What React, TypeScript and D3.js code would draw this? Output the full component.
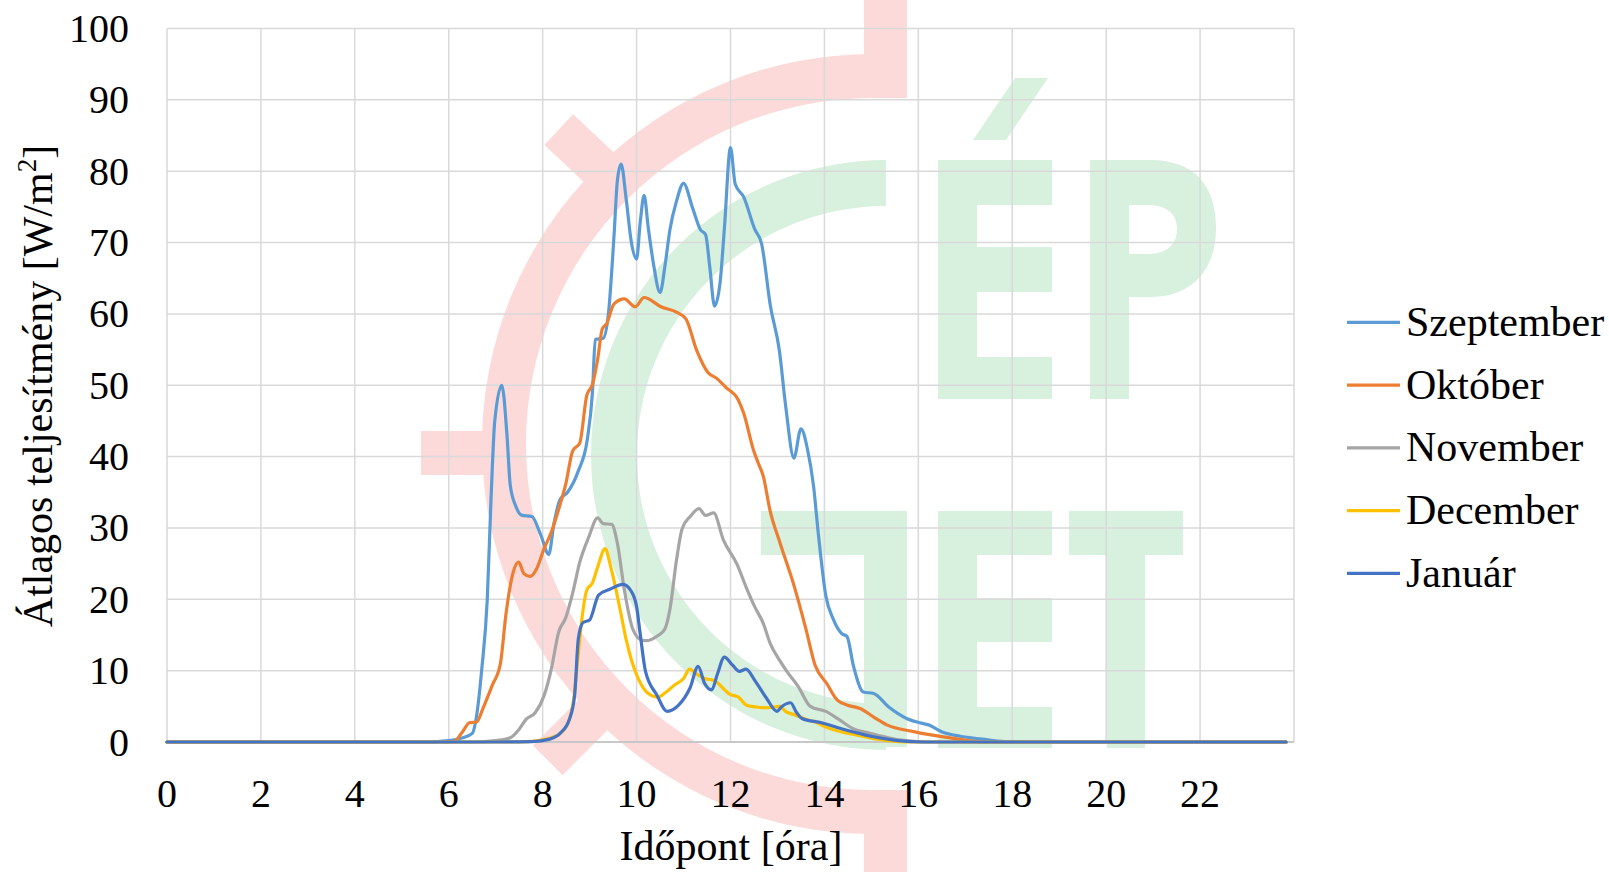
import React from 'react';
import * as d3 from 'd3';

const W = 1609;
const H = 872;
const X0 = 167;
const X1 = 1294;
const Y0 = 742;
const Y1 = 28.5;

const xTickLabels = [0, 2, 4, 6, 8, 10, 12, 14, 16, 18, 20, 22];
const xGridHours = [0, 2, 4, 6, 8, 10, 12, 14, 16, 18, 20, 22, 24];
const yTickLabels = [0, 10, 20, 30, 40, 50, 60, 70, 80, 90, 100];

const seriesNames = ['Szeptember', 'Október', 'November', 'December', 'Január'];
const seriesColors = ['#5B9BD5', '#ED7D31', '#A5A5A5', '#FFC000', '#4472C4'];

// [hour, W/m2]
const szeptember: [number, number][] = [
  [0, 0], [5.5, 0], [6.0, 0.2], [6.3, 0.6], [6.5, 1.2], [6.6, 4], [6.7, 10], [6.82, 20], [6.9, 34], [6.98, 45],
  [7.13, 50], [7.24, 43], [7.31, 36], [7.43, 33], [7.55, 31.8], [7.77, 31.6], [7.96, 29], [8.13, 26.3], [8.24, 30.6],
  [8.37, 34], [8.53, 35], [8.76, 38], [8.95, 42.4], [9.06, 49], [9.12, 56.4], [9.29, 56.6], [9.4, 60], [9.52, 71],
  [9.59, 78.6], [9.67, 81], [9.78, 76], [9.89, 70], [10.0, 67.7], [10.08, 73], [10.16, 76.6], [10.25, 72], [10.36, 67],
  [10.5, 63], [10.61, 67], [10.71, 71.8], [10.85, 75.8], [11.0, 78.3], [11.19, 74.9], [11.36, 71.8], [11.47, 71.1],
  [11.56, 66.5], [11.66, 61.1], [11.78, 64.5], [11.87, 72], [12.0, 83.3], [12.1, 78.2], [12.28, 76.4], [12.52, 71.8],
  [12.66, 69.9], [12.85, 61.1], [13.04, 54.9], [13.18, 46.8], [13.35, 39.8], [13.5, 43.9], [13.64, 41], [13.77, 35.8],
  [13.87, 29.2], [14.03, 20.5], [14.19, 17.2], [14.37, 15.2], [14.48, 14.8], [14.62, 10.6], [14.83, 7.0], [15.05, 6.8],
  [15.37, 4.9], [15.75, 3.3], [16.03, 2.7], [16.22, 2.4], [16.51, 1.4], [16.89, 0.8], [17.36, 0.4], [17.84, 0.06],
  [18.2, 0], [23.833, 0],
];

const oktober: [number, number][] = [
  [0, 0], [5.8, 0], [6.12, 0.1], [6.29, 1.4], [6.44, 2.7], [6.59, 2.8], [6.74, 4.9], [6.93, 8], [7.1, 11], [7.22, 18],
  [7.35, 23.2], [7.49, 25.2], [7.6, 23.6], [7.73, 23.2], [7.88, 24.4], [8.03, 27.1], [8.19, 29.5], [8.34, 32.6],
  [8.49, 36.1], [8.64, 40.8], [8.79, 41.9], [8.94, 48.6], [9.06, 50.1], [9.17, 53.6], [9.27, 57.9], [9.36, 58.6],
  [9.52, 61.4], [9.74, 62.1], [9.97, 61], [10.16, 62.3], [10.52, 61], [10.86, 60.2], [11.05, 59.3], [11.28, 54.9],
  [11.52, 51.8], [11.7, 51], [11.9, 49.7], [12.16, 48], [12.28, 46.1], [12.49, 40.9], [12.59, 39.1], [12.7, 37.2],
  [12.84, 32.5], [13.06, 27.8], [13.34, 22.2], [13.6, 16], [13.8, 10.8], [14.05, 8.2], [14.27, 5.9], [14.48, 5.2],
  [14.76, 4.7], [15.05, 3.5], [15.33, 2.4], [15.9, 1.45], [16.75, 0.5], [17.4, 0], [23.833, 0],
];

const november: [number, number][] = [
  [0, 0], [6.5, 0], [7.01, 0.2], [7.31, 0.6], [7.5, 1.8], [7.65, 3.2], [7.84, 4.1], [8.03, 6.5], [8.19, 10.4],
  [8.34, 15.4], [8.49, 17.4], [8.64, 20.9], [8.79, 25.2], [8.98, 28.7], [9.17, 31.4], [9.29, 30.6], [9.47, 30.5],
  [9.59, 27.9], [9.74, 21.3], [9.92, 15.8], [10.1, 14.3], [10.2, 14.2], [10.45, 14.9], [10.6, 15.8], [10.71, 18.6],
  [10.85, 25.5], [10.97, 29.9], [11.14, 31.6], [11.33, 32.7], [11.47, 31.75], [11.64, 32.1], [11.85, 28.3],
  [12.14, 24.9], [12.33, 21.75], [12.52, 18.9], [12.7, 16.6], [12.84, 13.9], [13.04, 11.5], [13.2, 9.9], [13.44, 7.8],
  [13.7, 5], [14.04, 4.25], [14.3, 3.2], [14.6, 1.9], [14.99, 1.2], [15.36, 0.6], [15.73, 0.2], [16.2, 0], [23.833, 0],
];

const december: [number, number][] = [
  [0, 0], [7.0, 0], [7.69, 0.05], [8.07, 0.4], [8.37, 1.2], [8.55, 2.8], [8.66, 6], [8.76, 12.5], [8.84, 17.5],
  [8.94, 21.3], [9.06, 22.3], [9.17, 24.5], [9.33, 27.1], [9.44, 24.8], [9.55, 21.7], [9.66, 18.2], [9.78, 14.3],
  [9.89, 11.5], [10.04, 8.8], [10.23, 6.9], [10.45, 6.3], [10.61, 6.9], [10.81, 8], [11.0, 8.9], [11.13, 10.2],
  [11.26, 9.6], [11.45, 8.9], [11.66, 8.6], [11.83, 7.6], [11.98, 6.7], [12.17, 6.3], [12.33, 5.2], [12.55, 4.9],
  [12.78, 4.8], [13.05, 5.0], [13.17, 4.3], [13.37, 3.8], [13.6, 3.2], [13.8, 2.8], [14.07, 2.0], [14.37, 1.4],
  [14.75, 0.9], [15.13, 0.4], [15.5, 0.1], [16, 0], [23.833, 0],
];

const januar: [number, number][] = [
  [0, 0], [7.0, 0], [7.77, 0.05], [8.15, 0.4], [8.37, 1.2], [8.57, 3.2], [8.68, 6.5], [8.76, 14.5], [8.86, 16.75],
  [9.0, 17.1], [9.19, 20.6], [9.43, 21.4], [9.71, 22.1], [9.88, 21.2], [10.0, 19], [10.08, 15], [10.19, 9.9],
  [10.43, 6.6], [10.65, 4.3], [10.9, 5.2], [11.14, 7.6], [11.31, 10.6], [11.45, 8.2], [11.6, 7.3], [11.72, 9.5],
  [11.87, 11.9], [12.04, 10.8], [12.19, 9.9], [12.33, 10.2], [12.52, 8.6], [12.76, 6.2], [12.99, 4.3], [13.1, 5.0],
  [13.28, 5.5], [13.4, 4.2], [13.52, 3.3], [13.94, 2.7], [14.42, 1.75], [14.99, 0.8], [15.56, 0.2], [16.1, 0],
  [23.833, 0],
];

const seriesData = [szeptember, oktober, november, december, januar];

const FONT = '"Liberation Serif", "Times New Roman", serif';
const RED = '#FCDADA';
const GREEN = '#D8F0DE';

function Watermark() {
  const redArc = d3.arc()({ innerRadius: 346, outerRadius: 390, startAngle: Math.PI, endAngle: 2 * Math.PI } as any) as string;
  const greenArc = d3.arc()({ innerRadius: 249, outerRadius: 295, startAngle: Math.PI, endAngle: 2 * Math.PI } as any) as string;
  return (
    <g>
      {/* red logo */}
      <path d={redArc} transform="translate(872,444)" fill={RED} />
      <rect x={864} y={0} width={43} height={98} fill={RED} />
      <rect x={864} y={790} width={43} height={82} fill={RED} />
      <rect x={421} y={431} width={80} height={44} fill={RED} />
      <rect x={-40} y={-21} width={80} height={42} fill={RED} transform="translate(588,157) rotate(43)" />
      <rect x={-40} y={-21} width={80} height={42} fill={RED} transform="translate(576,732) rotate(-45)" />
      {/* green logo */}
      <path d={greenArc} transform="translate(886,455)" fill={GREEN} />
      <rect x={761} y={511} width={146} height={44} fill={GREEN} />
      <rect x={864} y={511} width={43} height={236} fill={GREEN} />
      {/* É top */}
      <path d="M938,160 H1052 V205 H977 V247 H1052 V292 H977 V357 H1052 V399 H938 Z" fill={GREEN} />
      <path d="M973,140 L1006,140 L1048,78 L1015,78 Z" fill={GREEN} />
      {/* P */}
      <path
        d="M1090,160 H1150 C1195,160 1216,186 1216,228 C1216,272 1190,297 1150,297 H1129 V399 H1090 Z M1129,205 V254 H1148 C1167,254 1177,244 1177,229 C1177,214 1167,205 1148,205 Z"
        fill={GREEN}
        fillRule="evenodd"
      />
      {/* E bottom */}
      <path d="M938,511 H1052 V555 H977 V598 H1052 V642 H977 V707 H1052 V748 H938 Z" fill={GREEN} />
      {/* T */}
      <path d="M1069,511 H1183 V555 H1145 V748 H1107 V555 H1069 Z" fill={GREEN} />
    </g>
  );
}

export default function App() {
  const x = d3.scaleLinear().domain([0, 24]).range([X0, X1]);
  const y = d3.scaleLinear().domain([0, 100]).range([Y0, Y1]);
  const line = d3
    .line<[number, number]>()
    .x((d) => x(d[0]))
    .y((d) => y(d[1]))
    .curve(d3.curveMonotoneX);

  return (
    <svg
      width={W}
      height={H}
      style={{ position: 'absolute', left: 0, top: 0, background: '#fff' }}
      fontFamily={FONT}
    >
      <rect x={0} y={0} width={W} height={H} fill="#fff" />
      <Watermark />
      {/* grid */}
      {yTickLabels.map((v) => (
        <line key={'h' + v} x1={X0} x2={X1} y1={y(v)} y2={y(v)} stroke="#D9D9D9" strokeWidth={1.5} />
      ))}
      {xGridHours.map((h) => (
        <line key={'v' + h} x1={x(h)} x2={x(h)} y1={Y1} y2={Y0} stroke="#D9D9D9" strokeWidth={1.5} />
      ))}
      <line x1={X0} x2={X1} y1={Y0} y2={Y0} stroke="#BFBFBF" strokeWidth={1.5} />
      {/* series */}
      {seriesData.map((s, i) => (
        <path
          key={seriesNames[i]}
          d={line(s) as string}
          fill="none"
          stroke={seriesColors[i]}
          strokeWidth={3.2}
          strokeLinejoin="round"
          strokeLinecap="round"
        />
      ))}
      {/* y tick labels */}
      {yTickLabels.map((v) => (
        <text key={'yl' + v} x={129} y={y(v) + 13.5} textAnchor="end" fontSize={40} fill="#000">
          {v}
        </text>
      ))}
      {/* x tick labels */}
      {xTickLabels.map((h) => (
        <text key={'xl' + h} x={x(h)} y={807} textAnchor="middle" fontSize={40} fill="#000">
          {h}
        </text>
      ))}
      {/* axis titles */}
      <text x={731} y={860} textAnchor="middle" fontSize={42} fill="#000">
        Időpont [óra]
      </text>
      <text transform="translate(52,386) rotate(-90)" textAnchor="middle" fontSize={42} fill="#000">
        Átlagos teljesítmény [W/m
        <tspan dy={-16} fontSize={27}>
          2
        </tspan>
        <tspan dy={16}>]</tspan>
      </text>
      {/* legend */}
      {seriesNames.map((n, i) => {
        const ly = 322.3 + i * 62.75;
        return (
          <g key={'lg' + n}>
            <line x1={1347} x2={1400} y1={ly} y2={ly} stroke={seriesColors[i]} strokeWidth={3.2} />
            <text x={1406} y={ly + 13.5} fontSize={42} fill="#000">
              {n}
            </text>
          </g>
        );
      })}
    </svg>
  );
}
